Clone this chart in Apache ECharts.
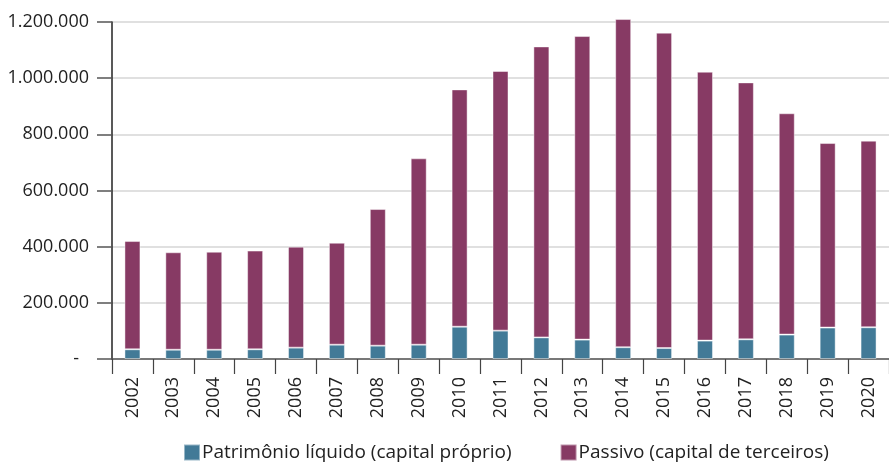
<!DOCTYPE html>
<html>
<head>
<meta charset="utf-8">
<script src="https://cdn.jsdelivr.net/npm/echarts@6/dist/echarts.min.js"></script>
<style>
  html, body { margin: 0; padding: 0; background: #fff; }
  #chart { width: 889px; height: 464px; }
</style>
</head>
<body>
<div id="chart"></div>
<script>
  var anos = ['2002','2003','2004','2005','2006','2007','2008','2009','2010','2011',
              '2012','2013','2014','2015','2016','2017','2018','2019','2020'];
  // patrimonio liquido (capital proprio)
  var patrimonio = [34500, 33000, 33000, 34500, 40500, 51000, 47500, 51000, 115000, 101000,
                    77000, 69000, 42000, 39000, 65500, 70000, 87000, 112000, 113000];
  // passivo (capital de terceiros)
  var passivo = [385500, 347000, 349000, 351500, 359500, 363000, 486500, 663500, 845000, 924500,
                 1036000, 1081000, 1168500, 1123000, 957500, 915000, 788000, 657000, 664500];
  var yTicks = [0, 200000, 400000, 600000, 800000, 1000000, 1200000];

  var fonte = '"Open Sans", "Noto Sans", sans-serif';

  function fmt(v) {
    if (v === 0) return '{z|-}';
    return String(v).replace(/\B(?=(\d{3})+(?!\d))/g, '.');
  }

  var chart = echarts.init(document.getElementById('chart'));
  chart.setOption({
    animation: false,
    textStyle: { fontFamily: fonte },
    grid: { left: 112, right: -6, top: 22, bottom: 105 },
    legend: {
      left: 183,
      top: 443,
      padding: 0,
      itemWidth: 16,
      itemHeight: 16,
      itemGap: 48,
      icon: 'rect',
      textStyle: { fontSize: 19, color: '#222', fontFamily: fonte, padding: [0, 0, 0, -3] },
      data: ['Patrimônio líquido (capital próprio)', 'Passivo (capital de terceiros)']
    },
    xAxis: {
      type: 'category',
      data: anos,
      axisLine: { lineStyle: { color: '#555', width: 1.5 } },
      axisTick: { show: true, length: 15, lineStyle: { color: '#444', width: 1.2 } },
      axisLabel: { rotate: 90, margin: 18, fontSize: 18, color: '#222', fontFamily: fonte }
    },
    yAxis: {
      type: 'value',
      min: yTicks[0],
      max: yTicks[yTicks.length - 1],
      interval: 200000,
      axisLine: { show: true, lineStyle: { color: '#222', width: 1.5 } },
      axisTick: { show: true, length: 15, lineStyle: { color: '#555', width: 1.5 } },
      axisLabel: {
        margin: 23,
        fontSize: 18,
        color: '#222',
        fontFamily: fonte,
        formatter: fmt,
        rich: { z: { fontSize: 18, color: '#222', padding: [0, 10, 0, 0] } }
      },
      splitLine: { lineStyle: { color: '#d6d6d6', width: 1.5 } }
    },
    series: [
      {
        name: 'Patrimônio líquido (capital próprio)',
        type: 'bar',
        stack: 'total',
        barWidth: 16,
        clip: false,
        data: patrimonio,
        itemStyle: { color: '#427a97', borderColor: 'rgba(255,255,255,0.45)', borderWidth: 1 }
      },
      {
        name: 'Passivo (capital de terceiros)',
        type: 'bar',
        stack: 'total',
        barWidth: 16,
        clip: false,
        data: passivo,
        itemStyle: { color: '#873a64', borderColor: 'rgba(255,255,255,0.45)', borderWidth: 1 }
      }
    ]
  });
</script>
</body>
</html>
